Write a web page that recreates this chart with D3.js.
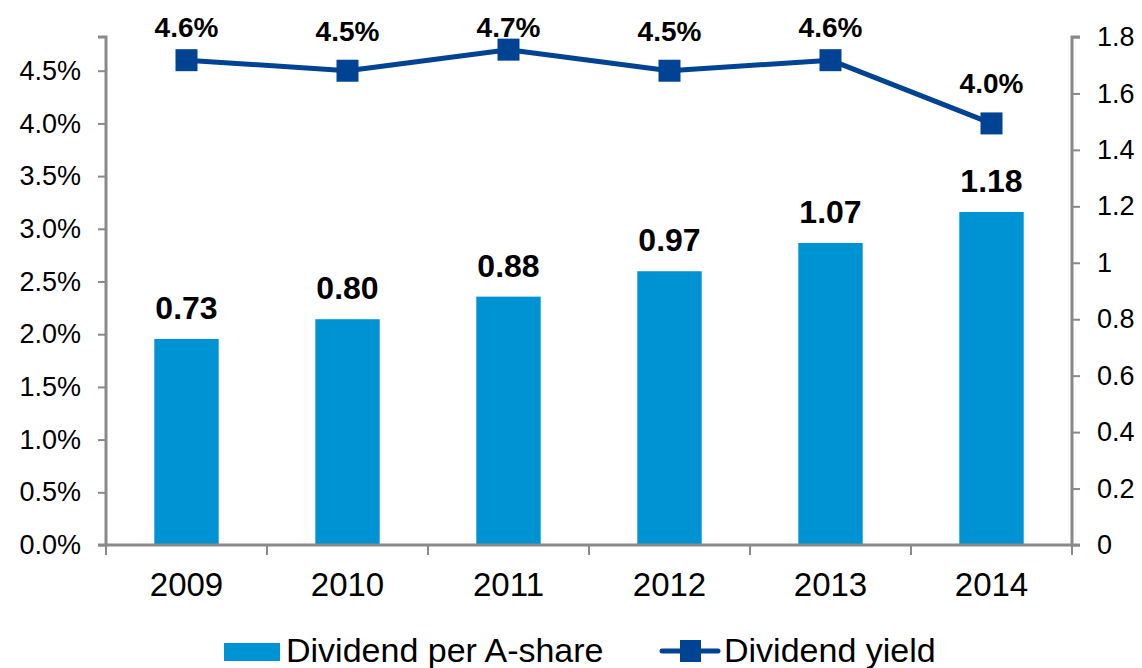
<!DOCTYPE html>
<html lang="en">
<head>
<meta charset="UTF-8">
<script src="https://cdn.jsdelivr.net/npm/d3@7"></script>
<style>
  body { margin: 0; background: #fff; }
  text { font-family: Arial, "Liberation Sans", sans-serif; }
</style>
</head>
<body>
<script>
  var years = ['2009', '2010', '2011', '2012', '2013', '2014'];
  var dividend = [0.73, 0.80, 0.88, 0.97, 1.07, 1.18];
  var yieldPct = [4.6, 4.5, 4.7, 4.5, 4.6, 4.0];
  var leftTicks = [0, 0.5, 1, 1.5, 2, 2.5, 3, 3.5, 4, 4.5];
  var rightTicks = [0, 0.2, 0.4, 0.6, 0.8, 1, 1.2, 1.4, 1.6, 1.8];

  var width = 1142, height = 668;
  var x0 = 106, x1 = 1072, yBase = 545, yTop = 37;
  var barColor = '#0093d3', lineColor = '#004393', axisColor = '#898989';

  var svg = d3.select('body').append('svg')
    .attr('width', width)
    .attr('height', height);

  var x = d3.scaleBand().domain(years).range([x0, x1]);
  var yL = d3.scaleLinear().domain([0, 4.82]).range([yBase, yTop]);
  var yR = d3.scaleLinear().domain([0, 1.8]).range([yBase, yTop]);

  // bars
  svg.selectAll('.bar')
    .data(dividend)
    .enter().append('rect')
    .attr('x', function(d, i) { return x(years[i]) + x.bandwidth() * 0.3; })
    .attr('y', function(d) { return yR(d); })
    .attr('width', x.bandwidth() * 0.4)
    .attr('height', function(d) { return yBase - yR(d); })
    .attr('fill', barColor);

  svg.selectAll('.barlabel')
    .data(dividend)
    .enter().append('text')
    .attr('x', function(d, i) { return x(years[i]) + x.bandwidth() / 2; })
    .attr('y', function(d) { return yR(d) - 20; })
    .attr('text-anchor', 'middle')
    .style('font-size', '32px')
    .style('font-weight', 'bold')
    .text(function(d) { return d.toFixed(2); });

  // axes
  var gL = svg.append('g')
    .attr('transform', 'translate(' + x0 + ',0)')
    .call(d3.axisLeft(yL).tickValues(leftTicks).tickSize(8).tickPadding(17)
      .tickFormat(function(d) { return d.toFixed(1) + '%'; }));
  var gR = svg.append('g')
    .attr('transform', 'translate(' + x1 + ',0)')
    .call(d3.axisRight(yR).tickValues(rightTicks).tickSize(8).tickPadding(17)
      .tickFormat(function(d) { return d3.format('~g')(d); }));
  var gX = svg.append('g')
    .attr('transform', 'translate(0,' + yBase + ')')
    .call(d3.axisBottom(x).tickSize(0).tickPadding(28));

  [gL, gR, gX].forEach(function(g) {
    g.select('.domain').attr('stroke', axisColor).attr('stroke-width', 3);
    g.selectAll('.tick line').attr('stroke', axisColor).attr('stroke-width', 2);
    g.selectAll('text').attr('fill', '#000').style('font-family', 'Arial, "Liberation Sans", sans-serif');
  });
  gL.selectAll('text').style('font-size', '27px');
  gR.selectAll('text').style('font-size', '27px');
  gX.selectAll('text').style('font-size', '33px').attr('dy', '0.71em');
  gL.select('.domain').attr('d', 'M-8,' + yTop + 'H0V' + yBase + 'H-8');
  gR.select('.domain').attr('d', 'M8,' + yTop + 'H0V' + yBase + 'H8');
  gX.select('.domain').attr('d', 'M' + x0 + ',0H' + x1);

  // category boundary ticks
  svg.selectAll('.xtick')
    .data(years.concat(['end']))
    .enter().append('line')
    .attr('x1', function(d, i) { return x0 + i * x.bandwidth(); })
    .attr('x2', function(d, i) { return x0 + i * x.bandwidth(); })
    .attr('y1', yBase)
    .attr('y2', yBase + 10)
    .attr('stroke', axisColor)
    .attr('stroke-width', 2);

  // yield line
  var line = d3.line()
    .x(function(d, i) { return x(years[i]) + x.bandwidth() / 2; })
    .y(function(d) { return yL(d); });

  svg.append('path')
    .datum(yieldPct)
    .attr('d', line)
    .attr('fill', 'none')
    .attr('stroke', lineColor)
    .attr('stroke-width', 5)
    .attr('stroke-linejoin', 'round');

  svg.selectAll('.marker')
    .data(yieldPct)
    .enter().append('rect')
    .attr('x', function(d, i) { return x(years[i]) + x.bandwidth() / 2 - 11; })
    .attr('y', function(d) { return yL(d) - 11; })
    .attr('width', 22)
    .attr('height', 22)
    .attr('fill', lineColor);

  // labels above the markers, kept inside the top edge
  svg.selectAll('.linelabel')
    .data(yieldPct)
    .enter().append('text')
    .attr('x', function(d, i) { return x(years[i]) + x.bandwidth() / 2; })
    .attr('y', function(d) { return Math.max(yL(d) - 30, 37); })
    .attr('text-anchor', 'middle')
    .style('font-size', '28px')
    .style('font-weight', 'bold')
    .text(function(d) { return d.toFixed(1) + '%'; });

  // legend
  var lg = svg.append('g');
  lg.append('rect')
    .attr('x', 224).attr('y', 643).attr('width', 56).attr('height', 18)
    .attr('fill', barColor);
  lg.append('text')
    .attr('x', 286).attr('y', 662)
    .style('font-size', '34px')
    .text('Dividend per A-share');
  lg.append('line')
    .attr('x1', 662).attr('x2', 718).attr('y1', 651).attr('y2', 651)
    .attr('stroke', lineColor).attr('stroke-width', 5).attr('stroke-linecap', 'round');
  lg.append('rect')
    .attr('x', 680).attr('y', 640).attr('width', 21).attr('height', 22)
    .attr('fill', lineColor);
  lg.append('text')
    .attr('x', 724).attr('y', 662)
    .style('font-size', '34px')
    .text('Dividend yield');
</script>
</body>
</html>
